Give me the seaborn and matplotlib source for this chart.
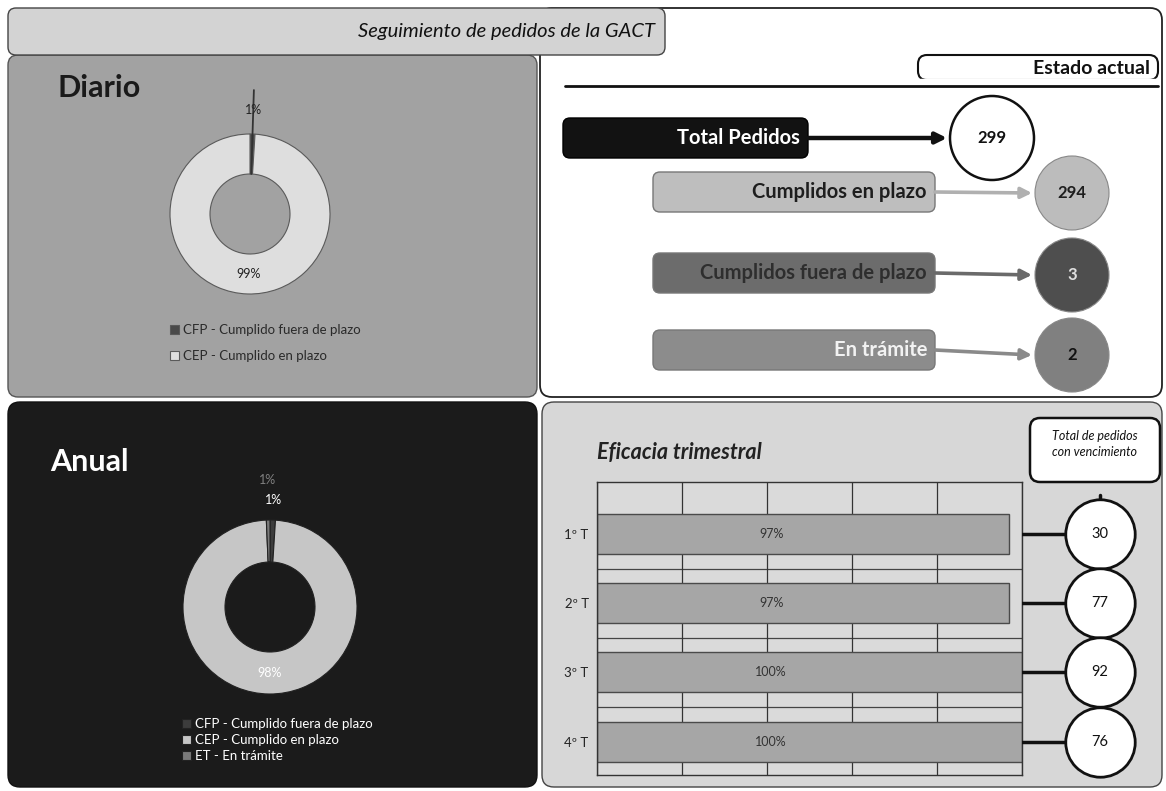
import matplotlib
matplotlib.use("Agg")
import matplotlib.pyplot as plt
import seaborn as sns
import numpy as np
import pandas as pd
from matplotlib.patches import FancyBboxPatch, Circle

# ---------------- data ----------------
titulo = "Seguimiento de pedidos de la GACT"
diario_labels = ["CFP - Cumplido fuera de plazo", "CEP - Cumplido en plazo"]
diario_valores = [1, 99]
anual_labels = ["CFP - Cumplido fuera de plazo", "CEP - Cumplido en plazo", "ET - En trámite"]
anual_valores = [3, 294, 2]
estado_labels = ["Total Pedidos", "Cumplidos en plazo", "Cumplidos fuera de plazo", "En trámite"]
estado_valores = [299, 294, 3, 2]
trimestres = ["1º T", "2º T", "3º T", "4º T"]
eficacia = [97, 97, 100, 100]
pedidos_vencimiento = [30, 77, 92, 76]

sns.set_theme(style="white")
plt.rcParams['font.family'] = ['Lato', 'DejaVu Sans']

W, H = 1166, 791
fig = plt.figure(figsize=(W / 100, H / 100), dpi=100)
fig.patch.set_facecolor('white')
bg = fig.add_axes([0, 0, 1, 1])
bg.set_xlim(0, W)
bg.set_ylim(H, 0)
bg.axis('off')


def panel(x0, y0, x1, y1, fc, ec, lw=1.0, r=10, z=1):
    p = FancyBboxPatch((x0, y0), x1 - x0, y1 - y0,
                       boxstyle=f"round,pad=0,rounding_size={r}",
                       fc=fc, ec=ec, lw=lw, zorder=z)
    bg.add_patch(p)
    return p


def px_axes(x0, y0, x1, y1, **kw):
    return fig.add_axes([x0 / W, 1 - y1 / H, (x1 - x0) / W, (y1 - y0) / H], **kw)


# ---------------- panels ----------------
panel(540, 8, 1162, 397, 'white', '#222222', lw=1.3, r=12)
panel(8, 55, 537, 397, '#a2a2a2', '#555555', r=10)
panel(8, 8, 665, 55, '#d3d3d3', '#444444', r=8, z=2)
panel(8, 402, 537, 787, '#1b1b1b', '#111111', r=12)
panel(542, 402, 1162, 787, '#d7d7d7', '#444444', r=12)

bg.text(655, 31, titulo, ha='right', va='center', fontsize=14.5,
        style='italic', color='#111111', zorder=3)
bg.text(58, 88, "Diario", fontsize=22, fontweight='bold', color='#1a1a1a', va='center')
bg.text(50, 462, "Anual", fontsize=22, fontweight='bold', color='white', va='center')

# ---------------- Estado actual ----------------
panel(918, 55, 1158, 80, 'white', '#111111', lw=1.5, r=9, z=2)
bg.plot([920, 1156], [80, 80], color='white', lw=2.5, zorder=3)
bg.text(1150, 68, "Estado actual", ha='right', va='center', fontsize=14,
        fontweight='bold', color='#111111', zorder=4)
bg.plot([565, 1158], [86, 86], color='#111111', lw=2, zorder=3)

box_x0 = [563, 653, 653, 653]
box_x1 = [808, 935, 935, 935]
box_yc = [138, 192, 273, 350]
circ_x = [992, 1072, 1072, 1072]
circ_y = [138, 193, 275, 355]
circ_r = [42, 37, 37, 37]
box_fc = ['#121212', '#bebebe', '#6c6c6c', '#8c8c8c']
circ_fc = ['white', '#bcbcbc', '#4e4e4e', '#808080']
txt_c = ['white', '#1e1e1e', '#2e2e2e', '#f2f2f2']
num_c = ['#111111', '#1e1e1e', '#e0e0e0', '#111111']
arr_c = ['#111111', '#b0b0b0', '#6a6a6a', '#8a8a8a']

for i, (lab, val) in enumerate(zip(estado_labels, estado_valores)):
    x0, x1, yc = box_x0[i], box_x1[i], box_yc[i]
    panel(x0, yc - 20, x1, yc + 20, box_fc[i], '#777777' if i else '#000000', lw=1, r=7, z=3)
    bg.text(x1 - 8, yc, lab, ha='right', va='center', fontsize=14.5,
            fontweight='bold', color=txt_c[i], zorder=4)
    cx, cy, cr = circ_x[i], circ_y[i], circ_r[i]
    bg.annotate('', xy=(cx - cr - 3, cy), xytext=(x1, yc),
                arrowprops=dict(arrowstyle='-|>', lw=3.2 if i == 0 else 2.6,
                                color=arr_c[i], mutation_scale=16,
                                shrinkA=0, shrinkB=0), zorder=3)
    bg.add_patch(Circle((cx, cy), cr, fc=circ_fc[i],
                        ec='#111111' if i == 0 else '#888888', lw=1.8 if i == 0 else 0.8, zorder=4))
    bg.text(cx, cy, str(val), ha='center', va='center', fontsize=12,
            fontweight='bold', color=num_c[i], zorder=5)


# ---------------- donuts ----------------
def donut(ax, valores, colores, R, width, edge, lab_color, small_radii, leader=None):
    wedges, _ = ax.pie(valores, colors=colores, radius=R, startangle=90,
                       counterclock=False,
                       wedgeprops=dict(width=width, edgecolor=edge, linewidth=0.8))
    total = float(sum(valores))
    k = 0
    for w, v in zip(wedges, valores):
        pct = v / total * 100
        ang = np.deg2rad((w.theta1 + w.theta2) / 2)
        if pct < 5:
            r = small_radii[k % len(small_radii)]
            col = lab_color if k == 0 else '#808080'
            k += 1
            if leader is not None and k == 1:
                ax.plot([(R - width) * np.cos(ang), leader * np.cos(ang)],
                        [(R - width) * np.sin(ang), leader * np.sin(ang)],
                        color='#333333', lw=1.3, zorder=1)
        else:
            r = R - width / 2
            col = lab_color
        ax.text(r * np.cos(ang), r * np.sin(ang), f"{pct:.0f}%", ha='center',
                va='center', fontsize=9, color=col, zorder=3)
    return wedges


axd = px_axes(125, 89, 375, 339)
axd.set_xlim(-1.25, 1.25)
axd.set_ylim(-1.25, 1.25)
axd.set_aspect('equal')
axd.axis('off')
wd = donut(axd, diario_valores, ['#4a4a4a', '#dedede'], 0.8, 0.4, '#5a5a5a',
           '#222222', [1.04], leader=1.24)
axd.set_xlim(-1.25, 1.25)
axd.set_ylim(-1.25, 1.25)
axd.legend(wd, diario_labels, loc='upper left', bbox_to_anchor=(158 / W, 1 - 312 / H),
           bbox_transform=fig.transFigure, frameon=False, fontsize=9.5,
           labelspacing=1.1, handlelength=0.7, handleheight=0.7, handletextpad=0.3,
           labelcolor='#2a2a2a')

axa = px_axes(135, 472, 405, 742)
axa.set_xlim(-1.35, 1.35)
axa.set_ylim(-1.35, 1.35)
axa.set_aspect('equal')
axa.axis('off')
wa = donut(axa, anual_valores, ['#3c3c3c', '#c6c6c6', '#7a7a7a'], 0.87, 0.42, '#222222',
           'white', [1.07, 1.27])
axa.set_xlim(-1.35, 1.35)
axa.set_ylim(-1.35, 1.35)
axa.legend(wa, anual_labels, loc='upper left', bbox_to_anchor=(170 / W, 1 - 706 / H),
           bbox_transform=fig.transFigure, frameon=False, fontsize=9.5,
           labelspacing=0.3, handlelength=0.7, handleheight=0.7, handletextpad=0.3,
           labelcolor='white')

# ---------------- Eficacia trimestral ----------------
bg.text(597, 453, "Eficacia trimestral", fontsize=15.5, fontweight='bold', style='italic',
        color='#222222', va='center')
panel(1030, 418, 1160, 482, 'white', '#111111', lw=1.8, r=10, z=3)
bg.text(1095, 444, "Total de pedidos\ncon vencimiento", ha='center', va='center',
        fontsize=9, style='italic', color='#111111', zorder=4, linespacing=1.4)

axb = px_axes(597, 482, 1022, 775)
df = pd.DataFrame({'trimestre': trimestres, 'eficacia': eficacia})
sns.barplot(data=df, x='eficacia', y='trimestre', orient='h', color='#a6a6a6',
            width=0.58, edgecolor='#4a4a4a', linewidth=1, saturation=1, ax=axb)
axb.set_facecolor('#dadada')
axb.set_xlim(0, 100)
axb.set_xticks([0, 20, 40, 60, 80, 100])
axb.set_xticklabels([])
axb.xaxis.grid(True, color='#333333', lw=0.9)
axb.set_axisbelow(True)
for yb in np.arange(len(trimestres) - 1) + 0.5:
    axb.axhline(yb, color='#444444', lw=0.9, zorder=0.5)
for s in axb.spines.values():
    s.set_color('#333333')
    s.set_linewidth(1)
axb.set_xlabel('')
axb.set_ylabel('')
axb.tick_params(axis='y', length=0, labelsize=9.5, pad=6, labelcolor='#222222')
axb.tick_params(axis='x', length=0)
for i, v in enumerate(eficacia):
    axb.text(41, i, f"{v}%", ha='center', va='center', fontsize=9, color='#333333')

axc = px_axes(1022, 482, 1166, 775, sharey=axb)
axc.set_xlim(0, 1)
axc.axis('off')
cxp = 0.54
for i, n in enumerate(pedidos_vencimiento):
    axc.plot([0, cxp], [i, i], color='#111111', lw=2.5, zorder=1)
axc.plot([cxp, cxp], [-0.56, len(pedidos_vencimiento) - 1], color='#111111', lw=2.5,
         zorder=1, clip_on=False)
axc.scatter([cxp] * len(pedidos_vencimiento), range(len(pedidos_vencimiento)), s=2500,
            c='white', edgecolors='#111111', linewidths=2, zorder=3, clip_on=False)
for i, n in enumerate(pedidos_vencimiento):
    axc.text(cxp, i, str(n), ha='center', va='center', fontsize=10.5, color='#111111',
             zorder=4)

fig.savefig('out.png', dpi=100, facecolor='white')
